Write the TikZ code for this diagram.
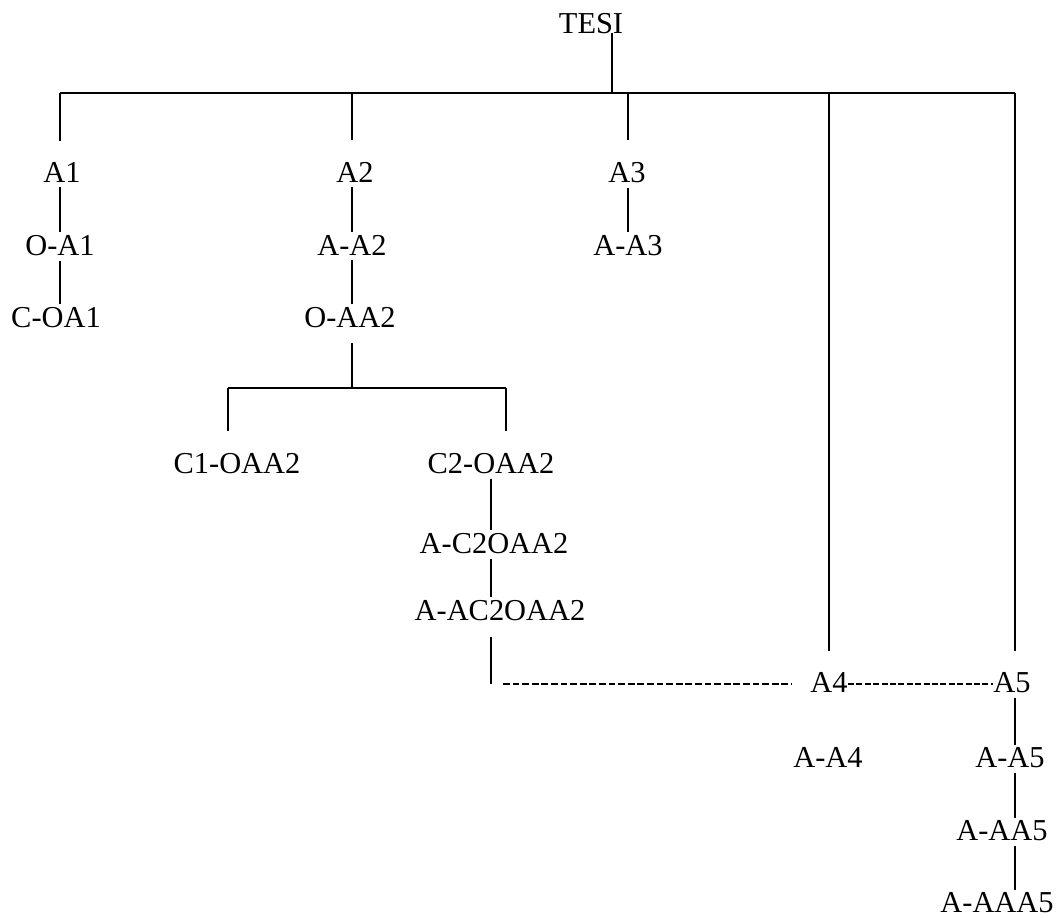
\documentclass[tikz,border=0pt]{standalone}
\usepackage{fontspec}
\setmainfont{Liberation Serif}
\begin{document}
\begin{tikzpicture}[
    x=0.5pt, y=-0.5pt,
    lbl/.style={inner sep=0pt, anchor=base, font=\fontsize{15.2}{18}\selectfont},
    bus/.style={draw=black, line width=0.8pt},
    te/.style={bus, shorten <=2.5pt, shorten >=1pt},
    drop/.style={bus, shorten >=10.5pt},
    dsh/.style={draw=black, line width=1.4pt, dash pattern=on 3.4pt off 1.4pt},
    dshthin/.style={draw=black, line width=0.7pt, dash pattern=on 3pt off 1.2pt},
]
\useasboundingbox (0,0) rectangle (1058,917);

% ====== column positions ======
\coordinate (colT) at (612,0);
\coordinate (col1) at (60,0);
\coordinate (col2) at (352,0);
\coordinate (col3) at (628,0);
\coordinate (col4) at (829,0);
\coordinate (col5) at (1015,0);
\coordinate (colC) at (491,0);

% ====== TOP ======
\node[lbl] (tesi) at (591,33) {TESI};
\coordinate (busL) at (60,93);
\coordinate (busR) at (1015,93);
\draw[bus] (busL) -- (busR);
\draw[bus] (tesi.base -| colT) -- (colT |- busL);

% ====== FIRST LEVEL ======
\node[lbl] (a1) at (62,182)   {A1};
\node[lbl] (a2) at (355,182)  {A2};
\node[lbl] (a3) at (627,182)  {A3};
\node[lbl] (a4) at (829,692)  {A4};
\node[lbl] (a5) at (1012,692) {A5};

\node[lbl] (oa1)  at (60,255)  {O-A1};
\node[lbl] (coa1) at (56,327)  {C-OA1};

\node[lbl] (aa2)  at (352,255) {A-A2};
\node[lbl] (oaa2) at (350,327) {O-AA2};

\node[lbl] (aa3)  at (628,255) {A-A3};

% Branch under O-AA2
\node[lbl] (c1oaa2)   at (237,473) {C1-OAA2};
\node[lbl] (c2oaa2)   at (491,473) {C2-OAA2};
\node[lbl] (ac2oaa2)  at (494,553) {A-C2OAA2};
\node[lbl] (aac2oaa2) at (500,620) {A-AC2OAA2};

% A4 and A5
\node[lbl] (aa4)   at (828,767)  {A-A4};
\node[lbl] (aa5)   at (1010,767) {A-A5};
\node[lbl] (aaa5)  at (1002,840) {A-AA5};
\node[lbl] (aaaa5) at (997,912)  {A-AAA5};

\foreach \n/\c in {a1/col1, a2/col2, a3/col3, a4/col4, a5/col5}
    \draw[drop] (\c |- busL) -- (\n.north -| \c);

\foreach \a/\b/\c in {a1/oa1/col1, oa1/coa1/col1, a2/aa2/col2, aa2/oaa2/col2,
    a3/aa3/col3, c2oaa2/ac2oaa2/colC, ac2oaa2/aac2oaa2/colC,
    a5/aa5/col5, aa5/aaa5/col5, aaa5/aaaa5/col5}
    \draw[te] (\a.south -| \c) -- (\b.north -| \c);

% ====== SECOND BUS ======
\coordinate (bus2L) at (228,388);
\coordinate (bus2R) at (506,388);
\draw[bus] (bus2L) -- (bus2R);
\draw[bus, shorten <=7.5pt] (oaa2.south -| col2) -- (col2 |- bus2L);
\draw[drop] (bus2L) -- (c1oaa2.north -| bus2L);
\draw[drop] (bus2R) -- (c2oaa2.north -| bus2R);

% ====== DASHED LINK ======
\coordinate (dashS) at (503,684);
\draw[bus, shorten <=8pt] (aac2oaa2.south -| colC) -- (colC |- dashS);
\draw[dsh, shorten >=9pt] (dashS) -- (a4.west |- dashS);
\draw[dshthin] (a4.east |- dashS) -- (a5.west |- dashS);

\end{tikzpicture}
\end{document}
